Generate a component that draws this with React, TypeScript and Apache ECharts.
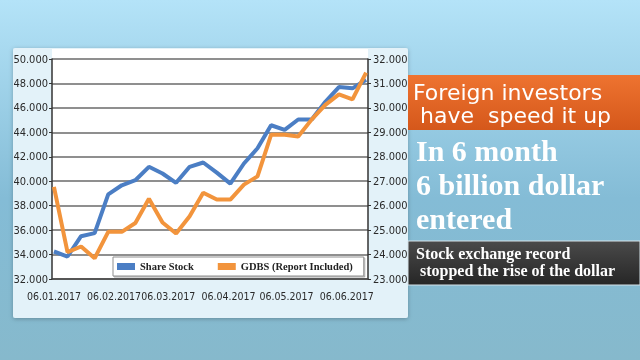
import React, { useEffect, useRef } from 'react';
import * as echarts from 'echarts';

const dates = [
  '2017-01-06', '2017-01-13', '2017-01-20', '2017-01-27', '2017-02-03', '2017-02-10',
  '2017-02-17', '2017-02-24', '2017-03-03', '2017-03-10', '2017-03-17', '2017-03-24',
  '2017-03-31', '2017-04-07', '2017-04-14', '2017-04-21', '2017-04-28', '2017-05-05',
  '2017-05-12', '2017-05-19', '2017-05-26', '2017-06-02', '2017-06-09', '2017-06-16',
];
const shareStock = [
  34250, 33840, 35500, 35750, 38920, 39670, 40080, 41180, 40630, 39870, 41180, 41530,
  40700, 39800, 41450, 42700, 44580, 44200, 45050, 45050, 46500, 47700, 47600, 48300,
];
const gdbs = [
  26770, 24100, 24330, 23850, 24930, 24930, 25290, 26280, 25310, 24860, 25570, 26530,
  26250, 26250, 26860, 27200, 28900, 28900, 28830, 29530, 30120, 30550, 30350, 31440,
];
const xLabelDates = ['2017-01-06', '2017-02-06', '2017-03-06', '2017-04-06', '2017-05-06', '2017-06-06'];
const seriesNames = ['Share Stock', 'GDBS (Report Included)'];
const headline = ['Foreign investors', ' have  speed it up'];
const bigText = ['In 6 month', '6 billion dollar', 'entered'];
const noteText = ['Stock exchange record', ' stopped the rise of the dollar'];

function ts(s: string) {
  const [y, m, d] = s.split('-').map(Number);
  return new Date(y, m - 1, d).getTime();
}
function pad(n: number, w = 2) {
  return String(n).padStart(w, '0');
}
function fmtThousands(v: number) {
  const k = Math.floor(v / 1000);
  const r = Math.round(v % 1000);
  return k + '.' + pad(r, 3);
}
function fmtDate(v: number) {
  const d = new Date(v);
  return pad(d.getDate()) + '.' + pad(d.getMonth() + 1) + '.' + d.getFullYear();
}

const axisFont = '"Liberation Sans Narrow", "DejaVu Sans Condensed", "Liberation Sans", sans-serif';

export default function App() {
  const ref = useRef<HTMLDivElement>(null);
  useEffect(() => {
    if (!ref.current) return;
    const chart = echarts.init(ref.current, undefined, { renderer: 'svg' });
    const blue = '#4b7ec4';
    const orange = '#f2943c';
    const option: any = {
      animation: false,
      graphic: [
        {
          type: 'rect', z: -100, silent: true,
          shape: { x: 0, y: 0, width: 640, height: 360 },
          style: {
            fill: new echarts.graphic.LinearGradient(0, 0, 0, 1, [
              { offset: 0, color: '#b4e3f8' },
              { offset: 0.55, color: '#84bcd6' },
              { offset: 1, color: '#86b9cc' },
            ]),
          },
        },
        {
          type: 'rect', z: -90, silent: true,
          shape: { x: 13, y: 48, width: 395, height: 270, r: 2 },
          style: { fill: '#e3f2f9', shadowBlur: 4, shadowColor: 'rgba(0,0,0,0.25)', shadowOffsetY: 1 },
        },
        {
          type: 'rect', z: -80, silent: true,
          shape: { x: 52, y: 49, width: 316, height: 230 },
          style: { fill: '#ffffff' },
        },
        {
          type: 'rect', z: -50, silent: true,
          shape: { x: 408, y: 75, width: 232, height: 55 },
          style: {
            fill: new echarts.graphic.LinearGradient(0, 0, 0, 1, [
              { offset: 0, color: '#ee7330' },
              { offset: 1, color: '#d5581b' },
            ]),
          },
        },
        {
          type: 'text', silent: true,
          style: { text: headline[0], x: 413, y: 92, fill: '#fff', fontSize: 22, fontFamily: '"DejaVu Sans", sans-serif', verticalAlign: 'middle' },
        },
        {
          type: 'text', silent: true,
          style: { text: headline[1], x: 413, y: 115, fill: '#fff', fontSize: 22, fontFamily: '"DejaVu Sans", sans-serif', verticalAlign: 'middle' },
        },
        ...bigText.map((t, i) => ({
          type: 'text', silent: true,
          style: {
            text: t, x: 416, y: 150 + i * 34, fill: '#fff', fontSize: 30, fontWeight: 'bold',
            fontFamily: '"Liberation Serif", "Times New Roman", serif', verticalAlign: 'middle',
          },
        })),
        {
          type: 'rect', z: -50, silent: true,
          shape: { x: 408, y: 241, width: 232, height: 44 },
          style: {
            fill: new echarts.graphic.LinearGradient(0, 0, 0, 1, [
              { offset: 0, color: '#4a4a4a' },
              { offset: 1, color: '#262626' },
            ]),
            stroke: '#d5e2e8', lineWidth: 1,
          },
        },
        ...noteText.map((t, i) => ({
          type: 'text', silent: true,
          style: {
            text: t, x: 416, y: 253 + i * 17, fill: '#fff', fontSize: 16, fontWeight: 'bold',
            fontFamily: '"Liberation Serif", "Times New Roman", serif', verticalAlign: 'middle',
          },
        })),
      ],
      legend: {
        left: 113,
        top: 257,
        itemWidth: 18,
        itemHeight: 7,
        itemGap: 24,
        icon: 'rect',
        padding: [4, 11, 4, 4],
        backgroundColor: '#ffffff',
        borderColor: '#8f8f8f',
        borderWidth: 1,
        shadowColor: 'rgba(0,0,0,0.35)',
        shadowOffsetX: 1,
        shadowOffsetY: 1,
        shadowBlur: 1,
        textStyle: { fontFamily: '"Liberation Serif", "Times New Roman", serif', fontWeight: 'bold', fontSize: 10.5, color: '#222' },
        data: seriesNames,
      },
      grid: { left: 52, right: 272, top: 59, bottom: 81 },
      xAxis: {
        type: 'value',
        min: ts('2017-01-05'),
        max: ts('2017-06-17'),
        axisLine: { show: true, lineStyle: { color: '#444', width: 1.5 } },
        axisTick: { show: false },
        splitLine: { show: false },
        axisLabel: {
          customValues: xLabelDates.map(ts),
          formatter: (v: number) => fmtDate(v),
          margin: 11,
          color: '#2a2a2a',
          fontSize: 10.5,
          fontFamily: axisFont,
          hideOverlap: false,
          showMinLabel: true,
          showMaxLabel: true,
        },
      },
      yAxis: [
        {
          type: 'value', position: 'left', min: 32000, max: 50000, interval: 2000,
          axisLine: { show: true, lineStyle: { color: '#333', width: 1.5 } },
          axisTick: { show: true, inside: false, length: 3, lineStyle: { color: '#333' } },
          splitLine: { show: true, lineStyle: { color: '#6a6a6a', width: 1.5 } },
          axisLabel: { formatter: (v: number) => fmtThousands(v), margin: 4, color: '#2a2a2a', fontSize: 11, fontFamily: axisFont },
        },
        {
          type: 'value', position: 'right', min: 23000, max: 32000, interval: 1000,
          axisLine: { show: true, lineStyle: { color: '#333', width: 1.5 } },
          axisTick: { show: true, inside: false, length: 3, lineStyle: { color: '#333' } },
          splitLine: { show: false },
          axisLabel: { formatter: (v: number) => fmtThousands(v), margin: 5, color: '#2a2a2a', fontSize: 11, fontFamily: axisFont },
        },
      ],
      series: [
        {
          name: seriesNames[0], type: 'line', yAxisIndex: 0, showSymbol: false, symbol: 'none',
          color: blue, lineStyle: { color: blue, width: 4 },
          data: dates.map((d, i) => [ts(d), shareStock[i]]),
        },
        {
          name: seriesNames[1], type: 'line', yAxisIndex: 1, showSymbol: false, symbol: 'none',
          color: orange, lineStyle: { color: orange, width: 4 },
          data: dates.map((d, i) => [ts(d), gdbs[i]]),
        },
      ],
    };
    chart.setOption(option);
    return () => chart.dispose();
  }, []);
  return <div ref={ref} style={{ position: 'fixed', left: 0, top: 0, width: 640, height: 360 }} />;
}
